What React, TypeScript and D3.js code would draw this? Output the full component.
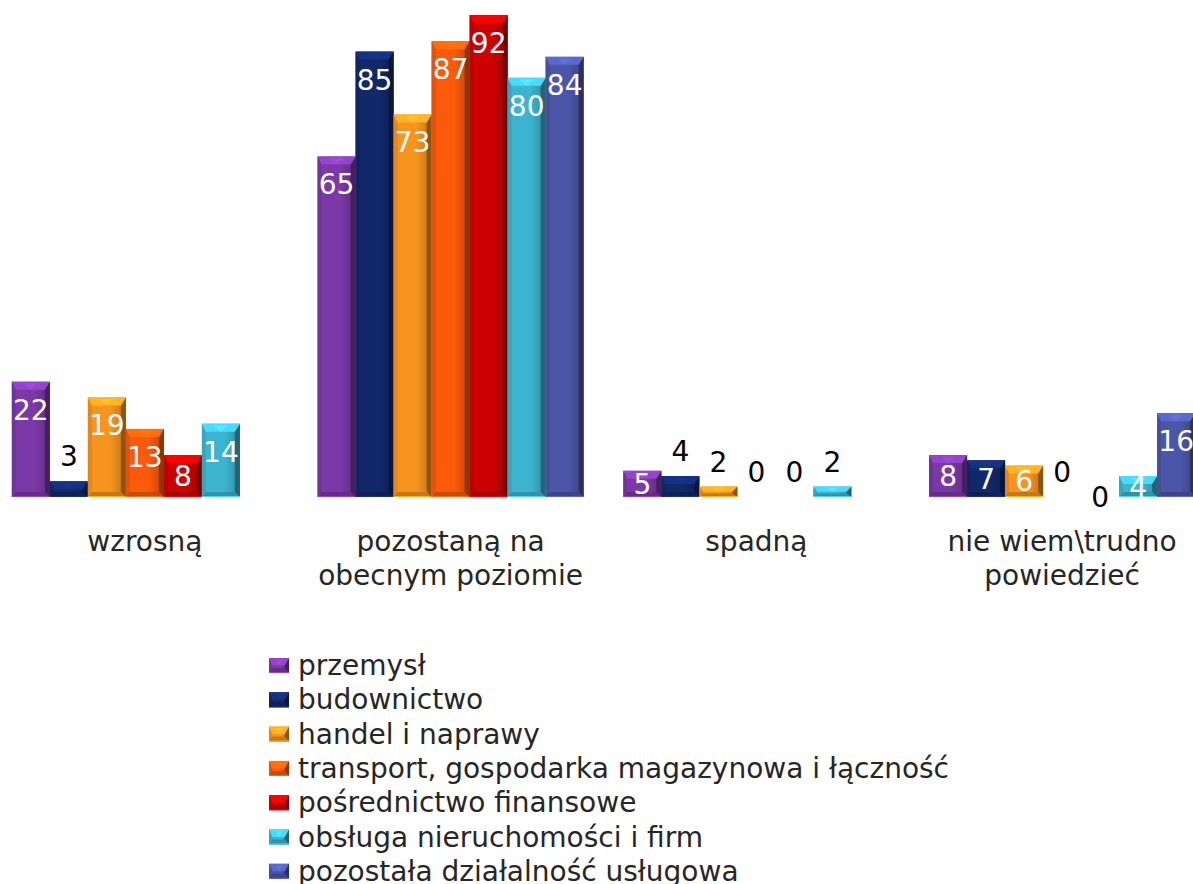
import * as d3 from "d3";

const CATEGORIES = ["wzrosną", "pozostaną na\nobecnym poziomie", "spadną", "nie wiem\\trudno\npowiedzieć"];
const SERIES = [
  "przemysł",
  "budownictwo",
  "handel i naprawy",
  "transport, gospodarka magazynowa i łączność",
  "pośrednictwo finansowe",
  "obsługa nieruchomości i firm",
  "pozostała działalność usługowa",
];
const COLORS = ["#7A39A6", "#11286A", "#F7941E", "#FA5A0A", "#CC0202", "#3DB4CF", "#4B56A8"];

// values per series, in category order (null = no bar)
const przemysl = [22, 65, 5, 8];
const budownictwo = [3, 85, 4, 7];
const handel = [19, 73, 2, 6];
const transport = [13, 87, 0, 0];
const posrednictwo = [8, 92, 0, 0];
const obsluga = [14, 80, 2, 4];
const pozostala = [null, 84, null, 16];
const VALUES: (number | null)[][] = [przemysl, budownictwo, handel, transport, posrednictwo, obsluga, pozostala];

// labels that Excel pushed outside the bar
const LABEL_ABOVE = new Set(["1|2"]);
const LABEL_LOW = new Set(["4|3"]);

const W = 1193, H = 884;
const FONT = "'DejaVu Sans', Verdana, sans-serif";

function BevelBar({ x, y, w, h, color, gid }: { x: number; y: number; w: number; h: number; color: string; gid: string }) {
  if (h <= 0) return null;
  const c = d3.color(color)!;
  const tb = Math.min(8, h / 2);
  const bb = Math.min(5, h / 3);
  const s = Math.min(4, w / 6);
  const pts = (p: number[][]) => p.map(q => q.join(",")).join(" ");
  return (
    <g>
      <rect x={x} y={y} width={w} height={h} fill={`url(#${gid})`} />
      <polygon points={pts([[x, y], [x + s, y + tb], [x + s, y + h - bb], [x, y + h]])} fill={c.darker(0.25).formatHex()} />
      <polygon points={pts([[x + w, y], [x + w - s - 1, y + tb], [x + w - s - 1, y + h - bb], [x + w, y + h]])} fill={c.darker(1.6).formatHex()} />
      <polygon points={pts([[x, y], [x + w, y], [x + w - s - 1, y + tb], [x + s, y + tb]])} fill={c.brighter(0.55).formatHex()} />
      <polygon points={pts([[x + w * 0.3, y + tb * 0.2], [x + w * 0.7, y + tb * 0.2], [x + w / 2, y + tb]])} fill={c.brighter(0.9).formatHex()} opacity={0.6} />
      <polygon points={pts([[x, y + h], [x + s, y + h - bb], [x + w - s - 1, y + h - bb], [x + w, y + h]])} fill={c.darker(0.6).formatHex()} />
      <rect x={x} y={y + h - 1} width={w} height={1} fill={c.brighter(0.5).formatHex()} />
    </g>
  );
}

export default function App() {
  const x0 = d3.scaleBand<string>().domain(CATEGORIES).range([-8, 1215]).padding(0);
  const x1 = d3.scaleBand<string>().domain(SERIES).range([0, x0.bandwidth()]).paddingInner(0).paddingOuter(0.522);
  const y = d3.scaleLinear().domain([0, 100]).range([497, -27]);
  const y0 = y(0);
  const bw = x1.bandwidth();

  return (
    <div>
      <style>{`body{margin:0;background:#fff}`}</style>
      <svg width={W} height={H} style={{ display: "block", fontFamily: FONT }}>
        <defs>
          {COLORS.map((col, i) => {
            const c = d3.color(col)!;
            return (
              <linearGradient key={i} id={`g${i}`} x1="0" x2="1" y1="0" y2="0">
                <stop offset="0" stopColor={c.formatHex()} />
                <stop offset="0.6" stopColor={c.formatHex()} />
                <stop offset="1" stopColor={c.darker(0.7).formatHex()} />
              </linearGradient>
            );
          })}
        </defs>

        {/* bars */}
        {CATEGORIES.map((cat, ci) => (
          <g key={cat} transform={`translate(${x0(cat)},0)`}>
            {SERIES.map((ser, si) => {
              const v = VALUES[si][ci];
              if (v == null) return null;
              const bx = x1(ser)!;
              const top = y(v);
              return (
                <BevelBar key={ser} x={bx} y={top} w={bw} h={y0 - top} color={COLORS[si]} gid={`g${si}`} />
              );
            })}
          </g>
        ))}

        {/* value labels */}
        {CATEGORIES.map((cat, ci) => (
          <g key={cat} transform={`translate(${x0(cat)},0)`}>
            {SERIES.map((ser, si) => {
              const v = VALUES[si][ci];
              if (v == null) return null;
              const key = `${si}|${ci}`;
              const cx = x1(ser)! + bw / 2;
              const top = y(v);
              let by: number, fill: string;
              if (LABEL_LOW.has(key)) {
                by = y0 + 10; fill = "#000";
              } else if (v < 4 || LABEL_ABOVE.has(key)) {
                by = top - 15; fill = "#000";
              } else {
                by = Math.min(top + 38, (top + y0) / 2 + 10); fill = "#fff";
              }
              return (
                <text key={ser} x={cx} y={by} textAnchor="middle" fontSize={28} fill={fill}>{v}</text>
              );
            })}
          </g>
        ))}

        {/* category labels */}
        {CATEGORIES.map(cat => {
          const cx = x0(cat)! + x0.bandwidth() / 2;
          return (
            <text key={cat} x={cx} y={551} textAnchor="middle" fontSize={28} fill="#262626">
              {cat.split("\n").map((line, li) => (
                <tspan key={li} x={cx} dy={li === 0 ? 0 : 34}>{line}</tspan>
              ))}
            </text>
          );
        })}

        {/* legend */}
        {SERIES.map((ser, i) => {
          const ly = 658 + i * 34.3;
          return (
            <g key={ser}>
              <BevelBar x={269} y={ly} w={20} h={15} color={COLORS[i]} gid={`g${i}`} />
              <text x={298} y={ly + 17} fontSize={28} fill="#262626">{ser}</text>
            </g>
          );
        })}
      </svg>
    </div>
  );
}
